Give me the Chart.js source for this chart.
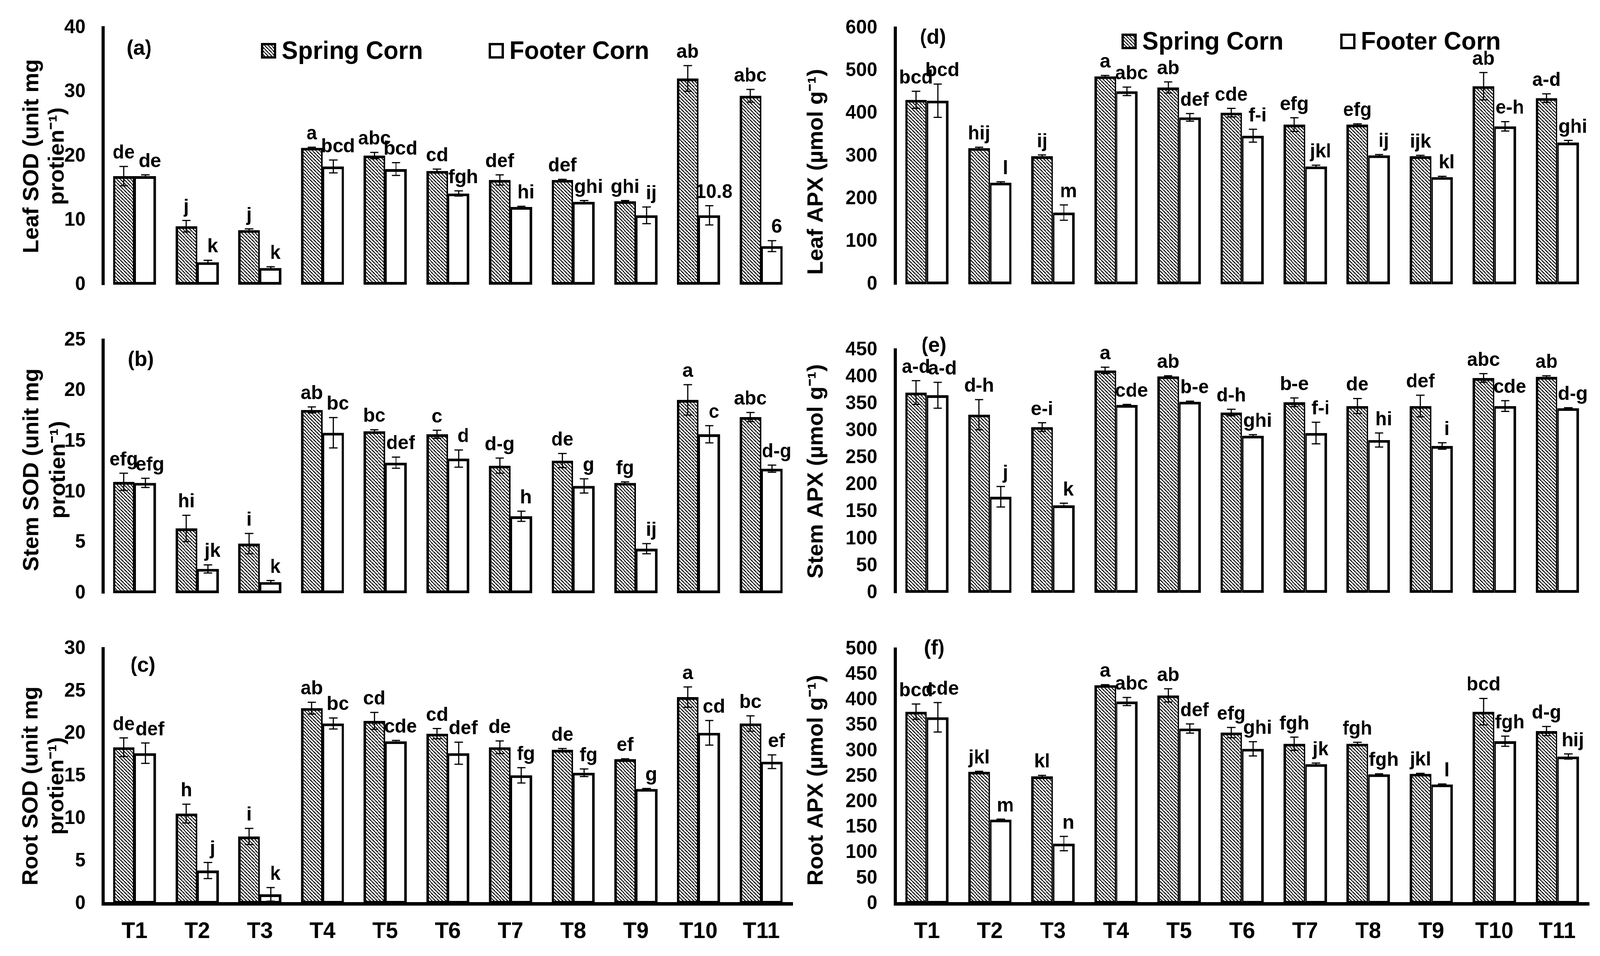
<!DOCTYPE html>
<html><head><meta charset="utf-8">
<script src="https://cdn.jsdelivr.net/npm/chart.js@4.4.1/dist/chart.umd.min.js"></script>
<style>
html,body{margin:0;padding:0;background:#fff;overflow:hidden;}
#root{position:absolute;left:0;top:0;width:4187px;height:2448px;background:#fff;transform-origin:0 0;}
canvas{position:absolute;}
</style></head><body>
<div id="root">
<canvas id="cA" width="2090" height="800" style="left:0;top:0;width:2090px;height:800px"></canvas>
<canvas id="cB" width="2090" height="790" style="left:0;top:800px;width:2090px;height:790px"></canvas>
<canvas id="cC" width="2090" height="858" style="left:0;top:1590px;width:2090px;height:858px"></canvas>
<canvas id="cD" width="2097" height="800" style="left:2090px;top:0;width:2097px;height:800px"></canvas>
<canvas id="cE" width="2097" height="790" style="left:2090px;top:800px;width:2097px;height:790px"></canvas>
<canvas id="cF" width="2097" height="858" style="left:2090px;top:1590px;width:2097px;height:858px"></canvas>
</div>
<script>
// ---------------- DATA ----------------
const categories = ['T1','T2','T3','T4','T5','T6','T7','T8','T9','T10','T11'];
const seriesNames = ['Spring Corn','Footer Corn'];

// (a) Leaf SOD
const leafSODSpring    = [16.9, 9.1, 8.5, 21.3, 20.1, 17.7, 16.3, 16.3, 13.0, 32.1, 29.4];
const leafSODFooter    = [16.9, 3.5, 2.6, 18.4, 18.0, 14.2, 12.1, 12.9, 10.8, 10.8, 6.0];
const leafSODSpringErr = [1.5, 0.9, 0.2, 0.1, 0.5, 0.3, 0.8, 0.1, 0.1, 2.0, 1.0];
const leafSODFooterErr = [0.2, 0.3, 0.2, 1.0, 1.0, 0.4, 0.1, 0.2, 1.3, 1.5, 0.85];
const leafSODSpringLbl = ['de','j','j','a','abc','cd','def','def','ghi','ab','abc'];
const leafSODFooterLbl = ['de','k','k','bcd','bcd','fgh','hi','ghi','ij','10.8','6'];

// (b) Stem SOD
const stemSODSpring    = [11.0, 6.4, 4.9, 18.1, 16.0, 15.7, 12.6, 13.1, 10.9, 19.1, 17.4];
const stemSODFooter    = [10.9, 2.4, 1.1, 15.85, 12.9, 13.3, 7.6, 10.6, 4.4, 15.7, 12.3];
const stemSODSpringErr = [0.85, 1.3, 1.0, 0.3, 0.15, 0.4, 0.75, 0.7, 0.1, 1.5, 0.45];
const stemSODFooterErr = [0.45, 0.4, 0.15, 1.5, 0.55, 0.85, 0.5, 0.7, 0.5, 0.85, 0.35];
const stemSODSpringLbl = ['efg','hi','i','ab','bc','c','d-g','de','fg','a','abc'];
const stemSODFooterLbl = ['efg','jk','k','bc','def','d','h','g','ij','c','d-g'];

// (c) Root SOD
const rootSODSpring    = [18.4, 10.6, 7.9, 23.0, 21.5, 20.0, 18.4, 18.1, 17.0, 24.3, 21.2];
const rootSODFooter    = [17.7, 3.9, 1.1, 21.2, 19.1, 17.7, 15.1, 15.4, 13.5, 20.1, 16.7];
const rootSODSpringErr = [1.1, 1.1, 0.95, 0.7, 1.0, 0.6, 0.75, 0.15, 0.05, 1.2, 0.9];
const rootSODFooterErr = [1.2, 0.95, 0.8, 0.65, 0.1, 1.3, 0.9, 0.45, 0.05, 1.45, 0.8];
const rootSODSpringLbl = ['de','h','i','ab','cd','cd','de','de','ef','a','bc'];
const rootSODFooterLbl = ['def','j','k','bc','cde','def','fg','fg','g','cd','ef'];

// (d) Leaf APX
const leafAPXSpring    = [432, 319, 300, 487, 461, 402, 374, 374, 300, 464, 436];
const leafAPXFooter    = [430, 238, 168, 452, 391, 348, 276, 302, 251, 370, 332];
const leafAPXSpringErr = [20, 2, 3, 2, 13, 10, 16, 2, 2, 32, 10];
const leafAPXFooterErr = [39, 2, 18, 10, 9, 15, 3, 2, 2, 11, 5];
const leafAPXSpringLbl = ['bcd','hij','ij','a','ab','cde','efg','efg','ijk','ab','a-d'];
const leafAPXFooterLbl = ['bcd','l','m','abc','def','f-i','jkl','ij','kl','e-h','ghi'];

// (e) Stem APX
const stemAPXSpring    = [371, 330, 307, 412, 401, 334, 353, 346, 346, 398, 400];
const stemAPXFooter    = [366, 178, 162, 348, 354, 291, 296, 283, 272, 346, 342];
const stemAPXSpringErr = [22, 28, 8, 6, 1, 6, 8, 14, 20, 8, 2];
const stemAPXFooterErr = [24, 19, 4, 1, 1, 2, 20, 13, 6, 10, 1];
const stemAPXSpringLbl = ['a-d','d-h','e-i','a','ab','d-h','b-e','de','def','abc','ab'];
const stemAPXFooterLbl = ['a-d','j','k','cde','b-e','ghi','f-i','hi','i','cde','d-g'];

// (f) Root APX
const rootAPXSpring    = [377, 259, 250, 429, 409, 336, 314, 314, 255, 377, 339];
const rootAPXFooter    = [366, 165, 118, 397, 344, 304, 274, 254, 234, 319, 289];
const rootAPXSpringErr = [15, 1, 2, 1, 13, 10, 13, 3, 1, 26, 9];
const rootAPXFooterErr = [29, 1, 14, 8, 9, 14, 2, 1, 1, 10, 5];
const rootAPXSpringLbl = ['bcd','jkl','kl','a','ab','efg','fgh','fgh','jkl','bcd','d-g'];
const rootAPXFooterLbl = ['cde','m','n','abc','def','ghi','jk','fgh','l','fgh','hij'];

// ---------------- PAGE FIT (viewport may be narrower than 4187) ----------------
(function fit() {
  const vw = window.innerWidth, vh = window.innerHeight;
  if (vw > 0 && vh > 0 && (vw !== 4187 || vh !== 2448)) {
    document.getElementById('root').style.transform = 'scale(' + (vw / 4187) + ',' + (vh / 2448) + ')';
  }
})();

// ---------------- STYLE / RENDER ----------------
const FONT = "'Liberation Sans', Arial, Helvetica, sans-serif";

function makeHatch() {
  const s = 9;
  const c = document.createElement('canvas');
  c.width = s; c.height = s;
  const g = c.getContext('2d');
  g.fillStyle = '#fff'; g.fillRect(0, 0, s, s);
  g.strokeStyle = '#000'; g.lineWidth = 2.4;
  for (let k = -1; k <= 1; k++) {
    g.beginPath(); g.moveTo(k * s, 0); g.lineTo(k * s + s, s); g.stroke();
  }
  return document.createElement('canvas').getContext('2d').createPattern(c, 'repeat');
}
const hatch = makeHatch();

function makeAnnotPlugin(cfg) {
  return {
    id: 'annot_' + cfg.id,
    afterDatasetsDraw(chart) {
      const ctx = chart.ctx;
      const ys = chart.scales.y;
      const vals = [cfg.spring, cfg.footer];
      const errs = [cfg.springErr, cfg.footerErr];
      const lbls = [cfg.springLbl, cfg.footerLbl];
      ctx.save();
      for (let di = 0; di < 2; di++) {
        const meta = chart.getDatasetMeta(di);
        meta.data.forEach((el, j) => {
          const v = vals[di][j], e = errs[di][j];
          const yt = ys.getPixelForValue(v + e), yb = ys.getPixelForValue(v - e);
          const cap = 11;
          ctx.strokeStyle = '#000'; ctx.lineWidth = 3;
          ctx.beginPath();
          ctx.moveTo(el.x, yt); ctx.lineTo(el.x, yb);
          ctx.moveTo(el.x - cap, yt); ctx.lineTo(el.x + cap, yt);
          ctx.moveTo(el.x - cap, yb); ctx.lineTo(el.x + cap, yb);
          ctx.stroke();
          ctx.fillStyle = '#000';
          ctx.font = 'bold 50px ' + FONT;
          ctx.textAlign = 'center'; ctx.textBaseline = 'alphabetic';
          ctx.fillText(lbls[di][j], el.x + (di === 1 ? 12 : 0), Math.min(yt, ys.getPixelForValue(v)) - 20);
        });
      }
      ctx.restore();
    },
    afterDraw(chart) {
      const ctx = chart.ctx;
      const area = chart.chartArea;
      ctx.save();
      // y-axis title (rotated), one or two lines
      ctx.fillStyle = '#000';
      ctx.font = 'bold 57px ' + FONT;
      ctx.textAlign = 'center'; ctx.textBaseline = 'middle';
      const yc = (area.top + area.bottom) / 2 + cfg.titleShift;
      cfg.title.forEach((line, i) => {
        ctx.save();
        ctx.translate(cfg.titleX[i], yc);
        ctx.rotate(-Math.PI / 2);
        ctx.fillText(line, 0, 0);
        ctx.restore();
      });
      // panel letter
      ctx.font = 'bold 54px ' + FONT;
      ctx.textAlign = 'left'; ctx.textBaseline = 'middle';
      ctx.fillText(cfg.panel, cfg.panelX, cfg.panelY);
      // legend
      if (cfg.legend) {
        const L = cfg.legend;
        const items = [[L.x1, hatch, chart.data.datasets[0].label], [L.x2, '#fff', chart.data.datasets[1].label]];
        items.forEach(([x, fill, text]) => {
          ctx.fillStyle = fill;
          ctx.fillRect(x, L.y - 20, 40, 40);
          ctx.lineWidth = 6; ctx.strokeStyle = '#000';
          ctx.strokeRect(x + 3, L.y - 17, 34, 34);
          ctx.fillStyle = '#000';
          ctx.font = 'bold 64px ' + FONT;
          ctx.textAlign = 'left'; ctx.textBaseline = 'middle';
          ctx.fillText(text, x + 54, L.y + 3);
        });
      }
      ctx.restore();
    }
  };
}

function buildPanel(cfg) {
  const canvas = document.getElementById(cfg.id);
  new Chart(canvas.getContext('2d'), {
    type: 'bar',
    data: {
      labels: categories,
      datasets: [
        { label: seriesNames[0], data: cfg.spring, backgroundColor: hatch, borderColor: '#000',
          borderWidth: {top: 7, left: 7, right: 4, bottom: 7}, borderSkipped: false,
          categoryPercentage: 0.69, barPercentage: 1.0 },
        { label: seriesNames[1], data: cfg.footer, backgroundColor: '#fff', borderColor: '#000',
          borderWidth: {top: 7, left: 4, right: 7, bottom: 7}, borderSkipped: false,
          categoryPercentage: 0.69, barPercentage: 1.0 }
      ]
    },
    options: {
      responsive: false, animation: false, devicePixelRatio: 1,
      layout: { autoPadding: false, padding: { left: 0, right: cfg.padRight, top: cfg.padTop, bottom: 0 } },
      plugins: { legend: { display: false }, tooltip: { enabled: false } },
      scales: {
        x: {
          grid: { display: false, drawTicks: false },
          border: { display: cfg.xAxis, width: 9, color: '#000' },
          ticks: { display: cfg.xAxis, color: '#000', padding: 37,
                   font: { family: FONT, size: 58, weight: 'bold', lineHeight: 1.2 } },
          afterFit: s => { s.height = cfg.xHeight; }
        },
        y: {
          min: 0, max: cfg.max,
          grid: { display: false, drawTicks: false },
          border: { display: true, width: 8, color: '#000' },
          ticks: { stepSize: cfg.step, color: '#000', padding: cfg.tickPad,
                   font: { family: FONT, size: 50, weight: 'bold', lineHeight: 1.0 } },
          title: { display: false },
          afterFit: s => { s.width = cfg.yWidth; }
        }
      }
    },
    plugins: [makeAnnotPlugin(cfg)]
  });
}

const leftCommon  = { yWidth: 270, padRight: 16, tickPad: 46 };
const rightCommon = { yWidth: 253, padRight: 29, tickPad: 47, titleX: [47] };

buildPanel(Object.assign({}, leftCommon, {
  id: 'cA', panel: '(a)', panelX: 331, panelY: 125,
  title: ['Leaf SOD (unit mg', 'protien\u207B\u00B9)'], titleX: [84, 151], titleShift: 0,
  max: 40, step: 10, padTop: 64, xHeight: 35, xAxis: false,
  spring: leafSODSpring, footer: leafSODFooter, springErr: leafSODSpringErr, footerErr: leafSODFooterErr,
  springLbl: leafSODSpringLbl, footerLbl: leafSODFooterLbl,
  legend: { x1: 683, x2: 1279, y: 130 }
}));
buildPanel(Object.assign({}, leftCommon, {
  id: 'cB', panel: '(b)', panelX: 334, panelY: 122,
  title: ['Stem SOD (unit mg', 'protien\u207B\u00B9)'], titleX: [84, 154], titleShift: 8,
  max: 25, step: 5, padTop: 53, xHeight: 28, xAxis: false,
  spring: stemSODSpring, footer: stemSODFooter, springErr: stemSODSpringErr, footerErr: stemSODFooterErr,
  springLbl: stemSODSpringLbl, footerLbl: stemSODFooterLbl
}));
buildPanel(Object.assign({}, leftCommon, {
  id: 'cC', panel: '(c)', panelX: 341, panelY: 115,
  title: ['Root SOD (unit mg', 'protien\u207B\u00B9)'], titleX: [82, 150], titleShift: 25,
  max: 30, step: 5, padTop: 34, xHeight: 134, xAxis: true,
  spring: rootSODSpring, footer: rootSODFooter, springErr: rootSODSpringErr, footerErr: rootSODFooterErr,
  springLbl: rootSODSpringLbl, footerLbl: rootSODFooterLbl
}));
buildPanel(Object.assign({}, rightCommon, {
  id: 'cD', panel: '(d)', panelX: 317, panelY: 97,
  title: ['Leaf APX (\u00B5mol g\u207B\u00B9)'], titleShift: 40,
  max: 600, step: 100, padTop: 63, xHeight: 21, xAxis: false,
  spring: leafAPXSpring, footer: leafAPXFooter, springErr: leafAPXSpringErr, footerErr: leafAPXFooterErr,
  springLbl: leafAPXSpringLbl, footerLbl: leafAPXFooterLbl,
  legend: { x1: 845, x2: 1417, y: 106 }
}));
buildPanel(Object.assign({}, rightCommon, {
  id: 'cE', panel: '(e)', panelX: 321, panelY: 86,
  title: ['Stem APX (\u00B5mol g\u207B\u00B9)'], titleShift: 0,
  max: 450, step: 50, padTop: 96, xHeight: 28, xAxis: false,
  spring: stemAPXSpring, footer: stemAPXFooter, springErr: stemAPXSpringErr, footerErr: stemAPXFooterErr,
  springLbl: stemAPXSpringLbl, footerLbl: stemAPXFooterLbl
}));
buildPanel(Object.assign({}, rightCommon, {
  id: 'cF', panel: '(f)', panelX: 328, panelY: 71,
  title: ['Root APX (\u00B5mol g\u207B\u00B9)'], titleShift: 10,
  max: 500, step: 50, padTop: 45, xHeight: 134, xAxis: true,
  spring: rootAPXSpring, footer: rootAPXFooter, springErr: rootAPXSpringErr, footerErr: rootAPXFooterErr,
  springLbl: rootAPXSpringLbl, footerLbl: rootAPXFooterLbl
}));
</script>
</body></html>
